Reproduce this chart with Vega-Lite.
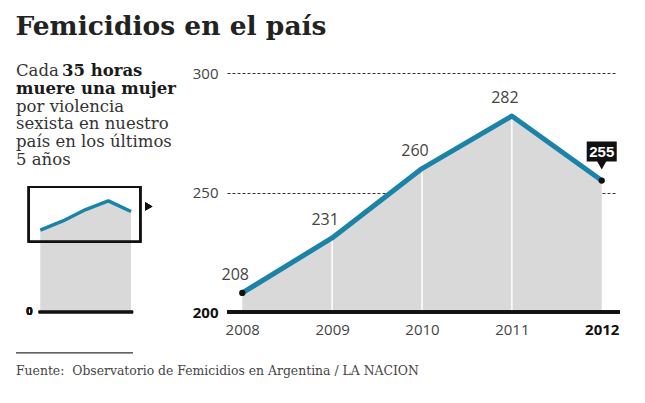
{
  "$schema": "https://vega.github.io/schema/vega-lite/v6.json",
  "background": "white",
  "padding": {"left": 15, "top": 13, "right": 5, "bottom": 5},
  "title": {
    "text": "Femicidios en el país",
    "anchor": "start",
    "font": "DejaVu Serif",
    "fontSize": 26.5,
    "fontWeight": "bold",
    "color": "#222222",
    "offset": 20
  },
  "config": {"view": {"stroke": null}},
  "datasets": {
    "femicidios": [
      {"anio": 2008, "casos": 208},
      {"anio": 2009, "casos": 231},
      {"anio": 2010, "casos": 260},
      {"anio": 2011, "casos": 282},
      {"anio": 2012, "casos": 255}
    ],
    "texto_normal": [
      {"linea": 1, "texto": "Cada"},
      {"linea": 3, "texto": "por violencia"},
      {"linea": 4, "texto": "sexista en nuestro"},
      {"linea": 5, "texto": "país en los últimos"},
      {"linea": 6, "texto": "5 años"}
    ],
    "texto_negrita_1": [{"linea": 1, "texto": "35 horas"}],
    "texto_negrita_2": [{"linea": 2, "texto": "muere una mujer"}],
    "fuente": [{"texto": "Fuente:\u00a0 Observatorio de Femicidios en Argentina / LA NACION"}]
  },
  "bounds": "flush",
  "spacing": 66,
  "hconcat": [
    {
      "width": 145,
      "height": 315,
      "resolve": {"scale": {"x": "independent", "y": "independent"}},
      "layer": [
        {
          "encoding": {
            "x": {"datum": 0, "type": "quantitative", "scale": {"domain": [0, 1]}, "axis": null},
            "y": {"field": "linea", "type": "ordinal", "scale": {"type": "point", "domain": [1, 2, 3, 4, 5, 6], "range": [16, 105], "padding": 0}, "axis": null},
            "text": {"field": "texto"}
          },
          "layer": [
            {
              "data": {"name": "texto_normal"},
              "mark": {"type": "text", "align": "left", "baseline": "alphabetic", "font": "DejaVu Serif", "fontSize": 16.5, "color": "#333333"}
            },
            {
              "data": {"name": "texto_negrita_1"},
              "mark": {"type": "text", "align": "left", "baseline": "alphabetic", "font": "DejaVu Serif", "fontSize": 16.5, "fontWeight": "bold", "color": "#1a1a1a", "dx": 46}
            },
            {
              "data": {"name": "texto_negrita_2"},
              "mark": {"type": "text", "align": "left", "baseline": "alphabetic", "font": "DejaVu Serif", "fontSize": 16.5, "fontWeight": "bold", "color": "#1a1a1a"}
            }
          ]
        },
        {
          "data": {"name": "femicidios"},
          "encoding": {
            "x": {"field": "anio", "type": "quantitative", "scale": {"domain": [2006.93, 2013.32], "nice": false, "zero": false}, "axis": null},
            "y": {"field": "casos", "type": "quantitative", "scale": {"domain": [-159.9, 639.6], "nice": false, "zero": false}, "axis": null}
          },
          "layer": [
            {"mark": {"type": "area", "color": "#d9d9d9"}, "encoding": {"y2": {"datum": 0}}},
            {"mark": {"type": "line", "color": "#1b82a8", "strokeWidth": 3.5, "strokeJoin": "round"}},
            {
              "mark": {"type": "rect", "fill": null, "stroke": "#111111", "strokeWidth": 2},
              "encoding": {
                "x": {"datum": 2007.49, "type": "quantitative"},
                "x2": {"datum": 2012.41},
                "y": {"datum": 178, "type": "quantitative"},
                "y2": {"datum": 317}
              }
            },
            {
              "mark": {"type": "rule", "color": "#111111", "strokeWidth": 2.5},
              "encoding": {
                "x": {"datum": 2007.93, "type": "quantitative"},
                "x2": {"datum": 2012.09},
                "y": {"datum": 0, "type": "quantitative"}
              }
            },
            {
              "mark": {"type": "text", "text": "0", "fontWeight": "bold", "font": "Open Sans", "fontSize": 11, "color": "#111111", "baseline": "middle"},
              "encoding": {
                "x": {"datum": 2007.52, "type": "quantitative"},
                "y": {"datum": 0, "type": "quantitative"}
              }
            },
            {
              "mark": {"type": "point", "shape": "triangle-right", "filled": true, "color": "#111111", "size": 70, "opacity": 1},
              "encoding": {
                "x": {"datum": 2012.78, "type": "quantitative"},
                "y": {"datum": 268, "type": "quantitative"}
              }
            }
          ]
        },
        {
          "data": {"name": "fuente"},
          "encoding": {
            "x": {"datum": 0, "type": "quantitative", "scale": {"domain": [0, 1]}, "axis": null},
            "y": {"datum": 0, "type": "quantitative", "scale": {"domain": [0, 1]}, "axis": null}
          },
          "layer": [
            {
              "mark": {"type": "rule", "color": "#333333", "strokeWidth": 1.2},
              "encoding": {"x2": {"datum": 0.807}, "y": {"datum": 0.07, "type": "quantitative"}}
            },
            {
              "mark": {"type": "text", "align": "left", "baseline": "alphabetic", "font": "DejaVu Serif", "fontSize": 12.4, "color": "#444444"},
              "encoding": {"text": {"field": "texto"}}
            }
          ]
        }
      ]
    },
    {
      "width": 390,
      "height": 252,
      "data": {"name": "femicidios"},
      "encoding": {
        "x": {
          "field": "anio",
          "type": "quantitative",
          "scale": {"domain": [2007.83, 2012.17], "nice": false, "zero": false},
          "axis": {
            "values": [2008, 2009, 2010, 2011, 2012],
            "format": "d",
            "title": null,
            "domain": false,
            "ticks": false,
            "grid": false,
            "labelFont": "Open Sans",
            "labelFontSize": 15,
            "labelPadding": 10,
            "labelColor": {"condition": {"test": "datum.value == 2012", "value": "#111111"}, "value": "#444444"},
            "labelFontWeight": {"condition": {"test": "datum.value == 2012", "value": "bold"}, "value": "normal"}
          }
        },
        "y": {
          "field": "casos",
          "type": "quantitative",
          "scale": {"domain": [200, 305.44], "nice": false, "zero": false},
          "axis": {
            "values": [200, 250, 300],
            "title": null,
            "domain": false,
            "ticks": false,
            "grid": true,
            "gridDash": [3, 2],
            "gridColor": "#333333",
            "gridWidth": 1,
            "labelFont": "Open Sans",
            "labelFontSize": 15,
            "labelPadding": 9,
            "labelColor": {"condition": {"test": "datum.value == 200", "value": "#111111"}, "value": "#444444"},
            "labelFontWeight": {"condition": {"test": "datum.value == 200", "value": "bold"}, "value": "normal"}
          }
        }
      },
      "layer": [
        {"mark": {"type": "area", "color": "#d9d9d9"}, "encoding": {"y2": {"datum": 200}}},
        {
          "transform": [{"filter": "datum.anio > 2008 && datum.anio < 2012"}],
          "mark": {"type": "rule", "color": "white", "strokeWidth": 1.5},
          "encoding": {"y2": {"datum": 200}}
        },
        {
          "mark": {"type": "rule", "color": "#111111", "strokeWidth": 3},
          "encoding": {"x": {"datum": 2007.83, "type": "quantitative"}, "x2": {"datum": 2012.2}, "y": {"datum": 200, "type": "quantitative"}}
        },
        {"mark": {"type": "line", "color": "#1b82a8", "strokeWidth": 5, "strokeJoin": "round"}},
        {
          "transform": [{"filter": "datum.anio == 2008 || datum.anio == 2012"}],
          "mark": {"type": "point", "filled": true, "color": "#111111", "size": 40, "opacity": 1}
        },
        {
          "transform": [{"filter": "datum.anio < 2012"}],
          "mark": {"type": "text", "font": "Open Sans", "fontSize": 16, "color": "#444444", "baseline": "alphabetic", "dx": -7, "dy": -13},
          "encoding": {"text": {"field": "casos", "type": "quantitative"}}
        },
        {
          "transform": [{"filter": "datum.anio == 2012"}],
          "mark": {"type": "point", "shape": "M-1.5,-3.9 L1.5,-3.9 L1.5,-1.9 L0.45,-1.9 L0,-1.1 L-0.45,-1.9 L-1.5,-1.9 Z", "filled": true, "color": "#111111", "size": 400, "opacity": 1}
        },
        {
          "transform": [{"filter": "datum.anio == 2012"}],
          "mark": {"type": "text", "font": "Liberation Sans", "fontSize": 15, "fontWeight": "bold", "color": "white", "baseline": "middle", "dy": -29},
          "encoding": {"text": {"field": "casos", "type": "quantitative"}}
        }
      ]
    }
  ]
}
